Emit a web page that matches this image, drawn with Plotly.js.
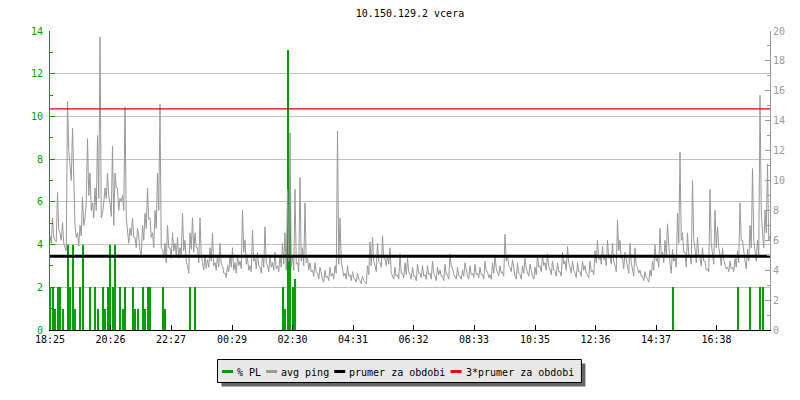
<!DOCTYPE html>
<html>
<head>
<meta charset="utf-8">
<script src="https://cdn.plot.ly/plotly-3.0.1.min.js"></script>
<style>
html,body{margin:0;padding:0;background:#fff;}
#chart{width:800px;height:400px;}
</style>
</head>
<body>
<div id="chart"></div>
<script>
// ---- data ----
const chartTitle = '10.150.129.2 vcera';
const startLabel = '18:25';
const stepMin = 5; // minutes between samples
const tickLabels = ['18:25','20:26','22:27','00:29','02:30','04:31','06:32','08:33','10:35','12:36','14:37','16:38'];
const seriesNames = ['% PL','avg ping','prumer za obdobi','3*prumer za obdobi'];
const seriesColors = ['#00a000','#999999','#000000','#ff0000'];

// avg ping (ms), right axis: samples on the full step (A) and at the half step (B)
const avgPingA = [
  6.3, 7.5, 6.0, 9.2, 6.5, 7.2, 5.5, 15.3, 11.0, 13.5,
  7.0, 6.5, 7.0, 8.9, 7.5, 12.8, 10.5, 8.5, 9.5, 13.0,
  19.6, 7.8, 9.5, 10.5, 8.5, 12.3, 10.5, 9.5, 8.8, 9.0,
  14.9, 6.5, 6.8, 7.5, 6.2, 6.8, 5.3, 7.0, 7.8, 9.5,
  7.5, 6.5, 8.0, 10.5, 15.1, 5.4, 5.8, 7.0, 5.5, 6.5,
  5.8, 6.2, 5.5, 7.8, 6.0, 4.3, 6.5, 7.5, 6.5, 5.5,
  7.5, 4.5, 5.0, 4.7, 5.5, 6.5, 4.5, 5.0, 5.8, 4.3,
  3.8, 4.3, 5.0, 5.5, 4.5, 5.0, 4.6, 8.0, 6.0, 4.8,
  4.3, 6.7, 4.8, 5.2, 4.2, 5.0, 6.9, 4.3, 5.0, 4.5,
  5.2, 4.3, 5.0, 5.8, 6.5, 9.4, 13.2, 5.0, 9.4, 4.5,
  10.2, 5.5, 8.5, 4.8, 4.5, 4.0, 4.5, 3.8, 4.2, 3.4,
  4.0, 3.6, 4.2, 3.8, 4.3, 13.3, 7.5, 4.0, 3.8, 4.3,
  3.7, 3.9, 3.4, 3.8, 3.3, 3.6, 3.2, 4.3, 5.9, 6.2,
  4.3, 5.8, 4.5, 6.3, 4.8, 5.0, 5.5, 3.6, 4.2, 3.7,
  5.1, 3.8, 4.5, 4.8, 3.7, 4.2, 3.6, 4.4, 3.8, 4.3,
  3.7, 4.3, 3.8, 4.6, 3.6, 4.2, 4.0, 3.6, 4.4, 3.7,
  5.1, 4.2, 3.6, 4.2, 3.6, 4.0, 4.5, 3.6, 4.3, 3.8,
  4.4, 3.8, 4.2, 3.7, 4.6, 3.9, 3.7, 4.5, 5.0, 3.8,
  4.3, 3.9, 6.4, 5.0, 4.2, 4.7, 3.6, 4.5, 3.7, 4.3,
  4.8, 3.9, 4.4, 3.6, 4.2, 5.0, 4.3, 5.0, 4.5, 5.1,
  4.0, 4.6, 3.9, 4.5, 3.9, 5.2, 4.6, 5.6, 4.2, 4.6,
  3.8, 4.5, 3.9, 4.6, 4.3, 3.7, 4.6, 4.0, 5.3, 6.0,
  5.0, 5.6, 4.9, 6.0, 5.0, 5.8, 4.3, 7.35, 6.0, 4.8,
  5.2, 4.2, 5.8, 4.0, 5.5, 4.2, 4.0, 3.6, 3.9, 3.4,
  4.0, 4.6, 5.7, 4.8, 6.8, 5.2, 6.0, 7.1, 4.4, 5.4,
  4.8, 7.8, 11.9, 6.5, 5.2, 6.5, 5.0, 10.0, 5.5, 6.2,
  4.8, 5.5, 4.6, 4.1, 9.4, 5.0, 8.0, 6.9, 5.0, 5.5,
  4.4, 4.2, 4.6, 4.2, 4.8, 5.3, 8.5, 6.0, 4.6, 5.4,
  7.0, 10.8, 5.0, 6.0, 15.7, 6.5, 8.0, 11.1, 6.3
];
const avgPingB = [
  5.8, 6.2, 5.9, 6.7, 6.0, 5.8, 5.3, 12.0, 10.0, 9.8,
  6.2, 5.6, 6.3, 7.0, 8.5, 9.0, 8.0, 7.5, 8.0, 8.8,
  7.5, 8.5, 8.8, 9.0, 7.6, 7.0, 9.5, 8.0, 8.6, 8.0,
  7.5, 5.8, 6.3, 6.2, 5.5, 6.3, 5.0, 6.0, 6.8, 7.4,
  6.2, 5.5, 6.8, 8.0, 5.5, 4.8, 4.5, 5.5, 4.8, 5.3,
  5.0, 4.8, 5.0, 5.3, 4.6, 3.8, 5.4, 5.2, 5.5, 4.5,
  5.0, 4.0, 4.1, 4.2, 4.6, 4.3, 4.0, 4.2, 4.4, 3.8,
  3.5, 3.9, 4.2, 4.0, 3.8, 4.3, 4.1, 5.2, 4.4, 4.0,
  3.9, 4.6, 4.1, 4.3, 3.8, 4.2, 4.5, 3.9, 4.2, 4.0,
  4.1, 3.9, 4.2, 4.4, 4.0, 4.6, 4.2, 4.0, 4.4, 3.9,
  4.6, 4.3, 4.5, 4.0, 3.9, 3.6, 3.9, 3.4, 3.7, 3.2,
  3.5, 3.3, 3.6, 3.4, 3.8, 4.4, 4.6, 3.6, 3.4, 3.6,
  3.3, 3.5, 3.2, 3.4, 3.1, 3.3, 3.1, 3.7, 4.3, 4.6,
  3.9, 4.6, 4.2, 4.8, 4.3, 4.4, 3.8, 3.4, 3.6, 3.4,
  3.8, 3.5, 3.7, 3.9, 3.4, 3.6, 3.3, 3.8, 3.5, 3.6,
  3.4, 3.7, 3.4, 3.8, 3.3, 3.7, 3.6, 3.3, 3.7, 3.4,
  4.2, 3.7, 3.4, 3.6, 3.4, 3.6, 3.9, 3.4, 3.7, 3.5,
  3.7, 3.5, 3.7, 3.4, 3.9, 3.5, 3.4, 3.8, 4.1, 3.6,
  3.8, 3.6, 4.6, 4.3, 3.9, 4.0, 3.4, 3.8, 3.4, 3.8,
  4.1, 3.6, 3.9, 3.4, 3.7, 4.2, 3.9, 4.3, 4.0, 4.3,
  3.7, 4.0, 3.6, 3.9, 3.6, 4.4, 4.0, 4.5, 3.8, 4.0,
  3.5, 3.9, 3.6, 4.0, 3.8, 3.5, 3.9, 3.7, 4.5, 4.7,
  4.4, 4.7, 4.3, 4.8, 4.4, 4.6, 3.9, 5.3, 4.8, 4.1,
  4.5, 3.8, 4.5, 3.6, 4.3, 3.8, 3.6, 3.3, 3.5, 3.2,
  3.6, 4.0, 4.6, 4.2, 5.0, 4.5, 4.9, 5.3, 3.8, 4.6,
  4.2, 5.8, 6.0, 5.2, 4.2, 5.0, 4.4, 6.0, 4.5, 5.0,
  4.3, 4.6, 4.0, 3.9, 5.8, 4.4, 5.5, 5.5, 4.3, 4.7,
  4.1, 3.9, 4.1, 3.9, 4.2, 4.5, 6.0, 5.0, 4.1, 4.6,
  5.5, 6.0, 4.6, 5.0, 8.0, 5.5, 6.5, 6.0
];

// packet loss (%), left axis: sample index and value (zero elsewhere)
const plSample = [0,1,2,3,4,5,7,8,9,10,12,13,16,18,19,21,22,23,24,25,26,28,29,30,33,34,35,37,38,39,40,45,46,56,58,93,94,95,96,97,98,249,275,280,284,285];
const plValue  = [2,2,1,2,2,1,4,2,4,1,2,4,2,2,1,2,1,2,4,2,4,2,1,2,2,1,1,2,1,2,2,2,1,2,2,2,1,13.1,6.5,2,2.4,2,2,2,2,2];

const prumerZaObdobi = 4.93; // ms

// ---- build ----
function toMin(lbl){ const p = lbl.split(':'); return (+p[0])*60 + (+p[1]); }
const start = toMin(startLabel);
const tickVals = tickLabels.map(l => ((toMin(l) - start) + 1440) % 1440);
const pingX = [], pingY = [];
avgPingA.forEach((v, i) => {
  pingX.push(i * stepMin); pingY.push(v);
  if (i < avgPingB.length) { pingX.push(i * stepMin + stepMin / 2); pingY.push(avgPingB[i]); }
});
const plX = plSample.map(i => i * stepMin);
const spanX = [0, 1440];

const MONO = 'DejaVu Sans Mono, monospace';
const GREEN = '#00a000';
const GRAY = '#999999';

const traces = [
  {type:'bar', name: seriesNames[0], x: plX, y: plValue, width: stepMin*0.8, yaxis:'y',
   marker:{color: seriesColors[0], line:{width:0}}, hoverinfo:'skip', showlegend:false},
  {type:'scatter', mode:'lines', name: seriesNames[1], x: pingX, y: pingY, yaxis:'y2',
   line:{color: seriesColors[1], width:1}, hoverinfo:'skip', showlegend:false},
  {type:'scatter', mode:'lines', name: seriesNames[2], x: spanX, y: [prumerZaObdobi, prumerZaObdobi], yaxis:'y2',
   line:{color: seriesColors[2], width:3}, hoverinfo:'skip', showlegend:false},
  {type:'scatter', mode:'lines', name: seriesNames[3], x: spanX, y: [3*prumerZaObdobi, 3*prumerZaObdobi], yaxis:'y2',
   line:{color:'#e00000', width:1.3}, hoverinfo:'skip', showlegend:false}
];

// ---- custom legend (box with drop shadow, short line symbols) ----
const M = {l: 50, r: 30, t: 31, b: 70};
const PW = 800 - M.l - M.r, PH = 400 - M.t - M.b;
const pxX = v => (v - M.l) / PW;
const pxY = v => (M.t + PH - v) / PH;
const charW = 6.02;
const legLeft = 217.5, legTop = 359.5, legBottom = 382.5, legMid = 371.5;
const shapes = [], annotations = [];
let cx = legLeft + 4.5;
seriesNames.forEach((n, k) => {
  shapes.push({type:'line', xref:'paper', yref:'paper', x0: pxX(cx), x1: pxX(cx + 11), y0: pxY(legMid), y1: pxY(legMid),
               line:{color: seriesColors[k], width:3}});
  cx += 15;
  annotations.push({text: n, xref:'paper', yref:'paper', x: pxX(cx - 1), y: pxY(legMid + 0.5), xanchor:'left', yanchor:'middle',
                    showarrow:false, borderpad:0, font:{family: MONO, size:10, color:'#000'}});
  cx += n.length * charW + 5;
});
const legRight = cx + 2.5;
shapes.unshift(
  {type:'rect', xref:'paper', yref:'paper', x0: pxX(legLeft + 4), x1: pxX(legRight + 4), y0: pxY(legBottom + 4), y1: pxY(legTop + 4),
   fillcolor:'#666666', line:{width:0}},
  {type:'rect', xref:'paper', yref:'paper', x0: pxX(legLeft), x1: pxX(legRight), y0: pxY(legBottom), y1: pxY(legTop),
   fillcolor:'#e8e8e8', line:{color:'#000', width:1}}
);

const layout = {
  width: 800, height: 400,
  margin: {l: M.l, r: M.r, t: M.t, b: M.b, pad: 0},
  paper_bgcolor: '#ffffff', plot_bgcolor: '#ffffff',
  font: {family: MONO, size: 10, color: '#000'},
  title: {text: chartTitle, font:{family: MONO, size: 10, color:'#000'}, x: 0.5, xref:'paper', y: 0.967, yref:'container', yanchor:'middle'},
  bargap: 0,
  showlegend: false,
  shapes: shapes,
  annotations: annotations,
  xaxis: {range: spanX, tickvals: tickVals, ticktext: tickLabels, ticks:'inside', ticklen:5, tickcolor:'#000',
          showline:true, linecolor:'#000', linewidth:1, showgrid:false, zeroline:false,
          tickfont:{family: MONO, size: 10, color:'#000'}, fixedrange:true},
  yaxis: {range:[0,14], dtick:2, tick0:0, ticks:'inside', ticklen:5, tickcolor: GREEN,
          showline:true, linecolor: GREEN, linewidth:1, showgrid:true, gridcolor:'#c0c0c0', gridwidth:1,
          zeroline:false, tickfont:{family: MONO, size: 10, color: GREEN}, ticklabelstandoff: 4,
          minor:{dtick:1, ticks:'inside', ticklen:3, tickcolor: GREEN, showgrid:false}, fixedrange:true},
  yaxis2: {range:[0,20], dtick:2, tick0:0, overlaying:'y', side:'right', ticks:'inside', ticklen:5, tickcolor: GRAY,
           showline:true, linecolor: GRAY, linewidth:1, showgrid:false, zeroline:false,
           tickfont:{family: MONO, size: 10, color: GRAY},
           minor:{dtick:1, ticks:'inside', ticklen:3, tickcolor: GRAY, showgrid:false}, fixedrange:true}
};

Plotly.newPlot('chart', traces, layout, {displayModeBar:false, staticPlot:true});
</script>
</body>
</html>
